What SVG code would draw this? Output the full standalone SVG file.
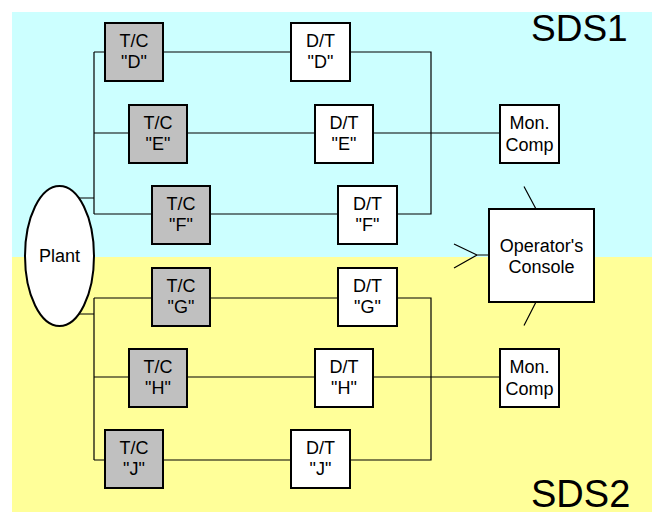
<svg xmlns="http://www.w3.org/2000/svg" width="652" height="521" viewBox="0 0 652 521">
<style>
.tc{fill:#C0C0C0;stroke:#000;stroke-width:2}
.dt{fill:#FFFFFF;stroke:#000;stroke-width:2}
.t{font-family:"Liberation Sans",Arial,sans-serif;font-size:18px;fill:#000;text-anchor:middle}
.big{font-family:"Liberation Sans",Arial,sans-serif;font-size:37px;fill:#000}
.c{fill:none;stroke:#000;stroke-width:1.2}
</style>
<rect x="0" y="0" width="652" height="521" fill="#FFFFFF"/>
<rect x="12" y="12" width="640" height="245" fill="#CCFFFF"/>
<rect x="12" y="257" width="640" height="255" fill="#FFFF99"/>
<text class="big" x="531" y="40.5">SDS1</text>
<text class="big" x="531" y="506.5" style="font-size:38px">SDS2</text>
<g id="connectors">
<path class="c" d="M94 52V214M94 52H105M163 52H291M350 52H431V214H397M94 133H129M187 133H315M373 133H500M94 214H152M210 214H338M77 198H94"/>
<path class="c" d="M94 298V460M94 298H152M210 298H338M397 298H431V460H350M94 377H129M187 377H315M373 377H500M94 460H105M163 460H291M77 314H94"/>
<path class="c" d="M524 186.5L536 209M536 302L524 325.5M454 244L477 255L454 268M477 255H489"/>
</g>
<g id="plant"><ellipse cx="59.5" cy="256" rx="34.5" ry="70" fill="#FFFFFF" stroke="#000" stroke-width="2"/><text class="t" x="59.5" y="261.5">Plant</text></g>
<g id="tcD"><rect class="tc" x="105" y="23" width="58" height="58"/><text class="t" x="134" y="46.5">T/C</text><text class="t" x="134" y="68">"D"</text></g>
<g id="tcE"><rect class="tc" x="129" y="105" width="58" height="58"/><text class="t" x="158" y="128.5">T/C</text><text class="t" x="158" y="150">"E"</text></g>
<g id="tcF"><rect class="tc" x="152" y="186" width="58" height="58"/><text class="t" x="181" y="209.5">T/C</text><text class="t" x="181" y="231">"F"</text></g>
<g id="tcG"><rect class="tc" x="152" y="268" width="58" height="58"/><text class="t" x="181" y="291.5">T/C</text><text class="t" x="181" y="313">"G"</text></g>
<g id="tcH"><rect class="tc" x="129" y="349" width="58" height="58"/><text class="t" x="158" y="372.5">T/C</text><text class="t" x="158" y="394">"H"</text></g>
<g id="tcJ"><rect class="tc" x="105" y="430" width="58" height="58"/><text class="t" x="134" y="453.5">T/C</text><text class="t" x="134" y="475">"J"</text></g>
<g id="dtD"><rect class="dt" x="291" y="23" width="59" height="58"/><text class="t" x="320.5" y="46.5">D/T</text><text class="t" x="320.5" y="68">"D"</text></g>
<g id="dtE"><rect class="dt" x="315" y="105" width="58" height="58"/><text class="t" x="344" y="128.5">D/T</text><text class="t" x="344" y="150">"E"</text></g>
<g id="dtF"><rect class="dt" x="338" y="186" width="59" height="58"/><text class="t" x="367.5" y="209.5">D/T</text><text class="t" x="367.5" y="231">"F"</text></g>
<g id="dtG"><rect class="dt" x="338" y="268" width="59" height="58"/><text class="t" x="367.5" y="291.5">D/T</text><text class="t" x="367.5" y="313">"G"</text></g>
<g id="dtH"><rect class="dt" x="315" y="349" width="58" height="58"/><text class="t" x="344" y="372.5">D/T</text><text class="t" x="344" y="394">"H"</text></g>
<g id="dtJ"><rect class="dt" x="291" y="430" width="59" height="58"/><text class="t" x="320.5" y="453.5">D/T</text><text class="t" x="320.5" y="475">"J"</text></g>
<g id="mon1"><rect class="dt" x="500" y="105" width="59" height="58"/><text class="t" x="529.5" y="129">Mon.</text><text class="t" x="529.5" y="150.5">Comp</text></g>
<g id="mon2"><rect class="dt" x="500" y="349" width="59" height="58"/><text class="t" x="529.5" y="373">Mon.</text><text class="t" x="529.5" y="394.5">Comp</text></g>
<g id="console"><rect class="dt" x="489" y="209" width="105" height="93"/><text class="t" x="541.5" y="251.5">Operator's</text><text class="t" x="541.5" y="273">Console</text></g>
</svg>
